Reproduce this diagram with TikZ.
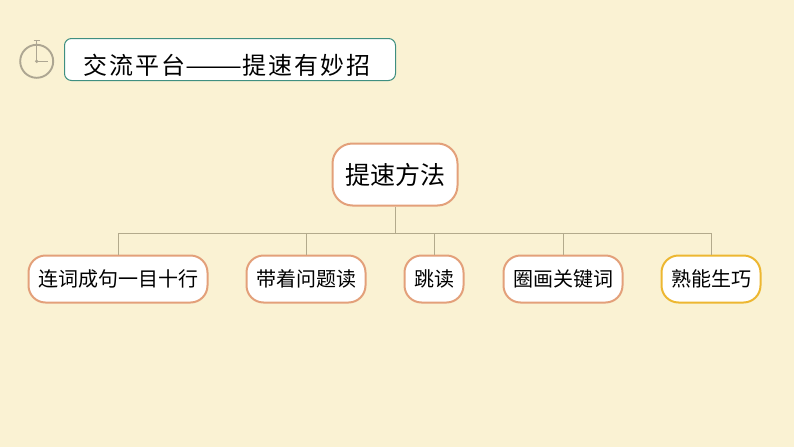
\documentclass[tikz,border=0pt]{standalone}
\usepackage{fontspec}
\usepackage{xcolor}
\usepackage{tikz}
\usetikzlibrary{positioning}
\setmainfont{Noto Sans CJK SC}
\definecolor{paper}{HTML}{FAF2D3}
\definecolor{rimorange}{HTML}{E3A07A}
\definecolor{rimyellow}{HTML}{EDB731}
\definecolor{rimteal}{HTML}{3F8F80}
\definecolor{linktan}{HTML}{B3AA8C}
\definecolor{watchgrey}{HTML}{ADA692}
\tikzset{
    methodbox/.style={draw=rimorange, fill=white, line width=2pt, rounded corners=17pt,
                      minimum height=47pt, inner sep=0pt, font=\fontsize{20}{22}\selectfont},
    link/.style={draw=linktan, line width=0.9pt},
    watch/.style={draw=watchgrey, line width=1.9pt}
}
\begin{document}
\begin{tikzpicture}[x=1pt, y=-1pt]
                                \useasboundingbox[fill=paper] (0,0) rectangle (794,447);
                                % stopwatch
                                \coordinate (hub) at (36.7,61.3);
                                \draw[watch] (hub) circle[radius=16.5];
                                \draw[watch, line width=1.4pt] (36.7,40.5) -- (36.7,44.3);
                                \draw[watch, line width=1.4pt] (33.5,40.5) -- (40,40.5);
                                \draw[watch, line width=1.1pt] (36.7,45.5) -- (hub) -- (48,61.3);
                                \fill[watchgrey] (hub) circle[radius=1.8];
                                % title
                                \node[draw=rimteal, fill=white, line width=1pt, rounded corners=7pt, inner sep=0pt,
                                      minimum width=331pt, minimum height=42pt,
                                      font=\fontsize{24}{28}\selectfont\addfontfeature{LetterSpace=8}] (title) at (230,59.5)
                                      {\raisebox{-12pt}[10pt][5pt]{交流平台\scalebox{1.42}[1]{——}提速有妙招\hspace{6pt}}};
                                % root and methods
                                \node[methodbox, minimum width=125pt, minimum height=62pt, rounded corners=20pt,
                                      font=\fontsize{25}{30}\selectfont] (root) at (395,174.5) {提速方法};
                                \node[methodbox, minimum width=179pt] (lianci) at (118,279) {连词成句一目十行};
                                \node[methodbox, minimum width=119pt] (daizhe) at (306,279) {带着问题读};
                                \node[methodbox, minimum width=59pt] (tiaodu) at (434,279) {跳读};
                                \node[methodbox, minimum width=119pt] (quanhua) at (563,279) {圈画关键词};
                                \node[methodbox, draw=rimyellow, minimum width=99pt] (shuneng) at (711,279) {熟能生巧};
                                % links
                                \coordinate (bus) at (395,233);
                                \draw[link] (root) -- (bus);
                                \draw[link] (bus) -| (lianci);
                                \draw[link] (bus) -| (daizhe);
                                \draw[link] (bus) -| (tiaodu);
                                \draw[link] (bus) -| (quanhua);
                                \draw[link] (bus) -| (shuneng);
                        \end{tikzpicture}
\end{document}
